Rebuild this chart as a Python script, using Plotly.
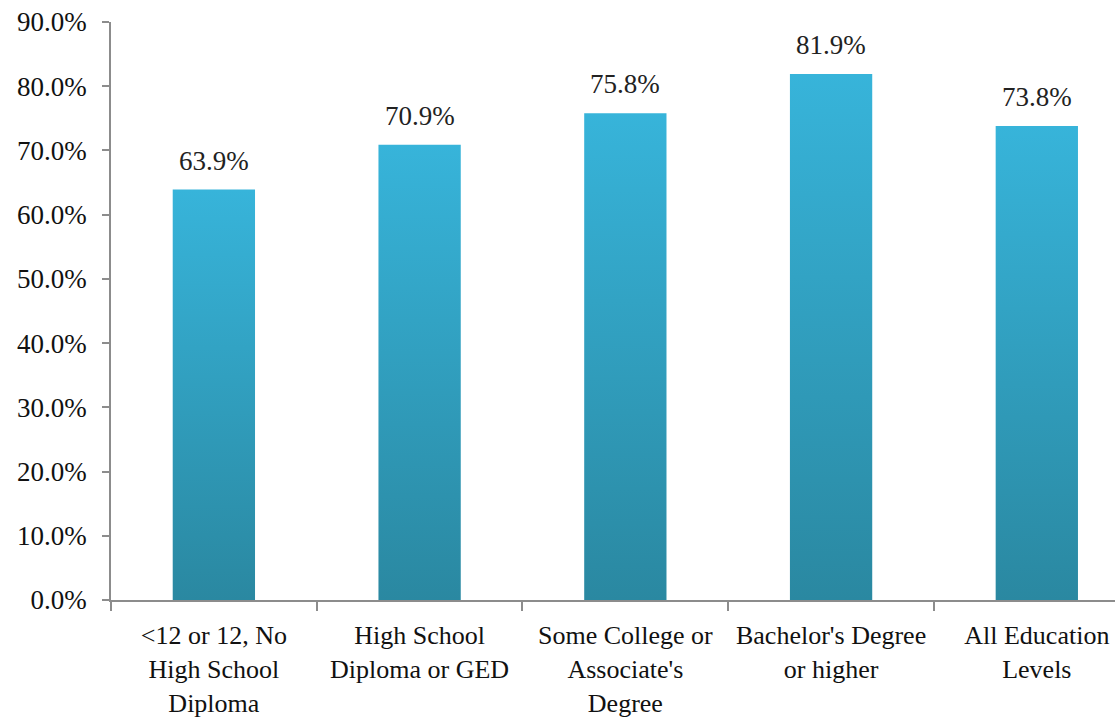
import plotly.graph_objects as go

categories = [
    "<12 or 12, No<br>High School<br>Diploma",
    "High School<br>Diploma or GED",
    "Some College or<br>Associate's<br>Degree",
    "Bachelor's Degree<br>or higher",
    "All Education<br>Levels",
]
values = [63.9, 70.9, 75.8, 81.9, 73.8]
y_ticks = [0, 10, 20, 30, 40, 50, 60, 70, 80, 90]
y_ticklabels = [f"{v:.1f}%" for v in y_ticks]

FONT = "Liberation Serif, Times New Roman, serif"
TOP = "#37b4da"
BOTTOM = "#2a88a1"
HALF = 0.2
FS = 27

fig = go.Figure()
for i, v in enumerate(values):
    xs = [i - HALF, i + HALF, i + HALF, i - HALF, i - HALF]
    ys = [0, 0, v, v, 0]
    fig.add_trace(go.Scatter(
        x=xs, y=ys, mode="lines", fill="toself",
        line=dict(width=0, color=TOP),
        fillcolor=TOP,
        fillgradient=dict(type="vertical", colorscale=[[0, BOTTOM], [1, TOP]]),
        hoverinfo="skip", showlegend=False,
    ))
    fig.add_annotation(
        x=i, y=v, text=f"{v:.1f}%", showarrow=False,
        yanchor="bottom", yshift=12,
        font=dict(family=FONT, size=FS, color="#222"),
    )

fig.update_layout(
    width=1118, height=722,
    margin=dict(l=111, r=3, t=22, b=122),
    paper_bgcolor="white", plot_bgcolor="white",
    font=dict(family=FONT, size=FS, color="#111"),
    showlegend=False,
)
fig.update_xaxes(
    range=[-0.5, 4.38], automargin=False,
    tickvals=list(range(len(categories))), ticktext=categories,
    ticks="", showgrid=False, zeroline=False,
    showline=True, linecolor="#8c8c8c", linewidth=1.5,
    tickfont=dict(family=FONT, size=26, color="#111"),
    ticklabelstandoff=11,
    minor=dict(ticks="outside", tick0=-0.5, dtick=1, ticklen=9,
               tickcolor="#8c8c8c", tickwidth=1.5, showgrid=False),
)
fig.update_yaxes(
    range=[0, 90], automargin=False,
    tickvals=y_ticks, ticktext=y_ticklabels,
    ticks="outside", ticklen=7, tickcolor="#8c8c8c", tickwidth=1.5,
    showgrid=False, zeroline=False,
    showline=True, linecolor="#8c8c8c", linewidth=1.5,
    tickfont=dict(family=FONT, size=FS, color="#111"),
    ticklabelstandoff=10,
)

fig.write_html("out.html")
